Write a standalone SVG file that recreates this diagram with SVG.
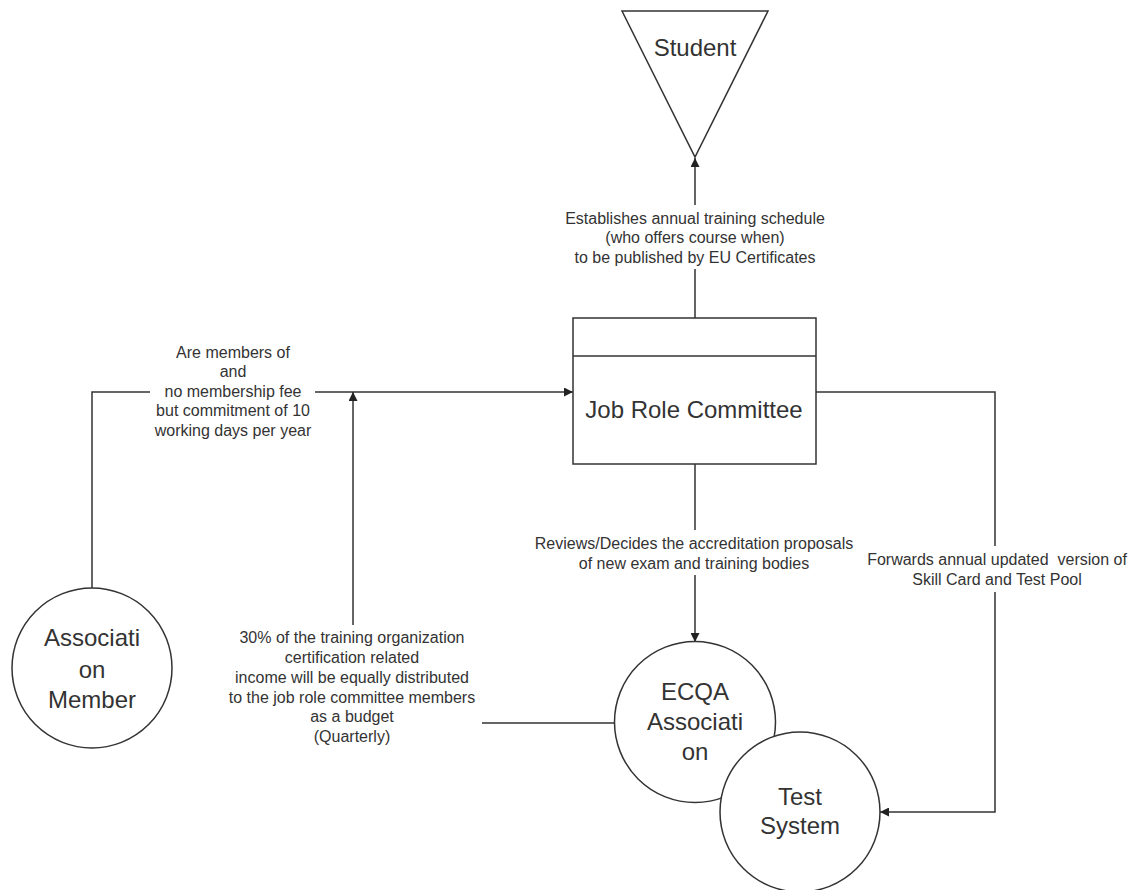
<svg xmlns="http://www.w3.org/2000/svg" width="1133" height="890" viewBox="0 0 1133 890">
<style>
.shape{fill:#fff;stroke:#333;stroke-width:1.5}
.conn{fill:none;stroke:#333;stroke-width:1.5}
.node{font-family:"Liberation Sans",Arial,sans-serif;font-size:24px;fill:#333;text-anchor:middle}
.lbl{font-family:"Liberation Sans",Arial,sans-serif;font-size:16px;fill:#333;text-anchor:middle;white-space:pre}
</style>
<defs>
<marker id="arr" viewBox="0 0 10 10" refX="10" refY="5" markerWidth="9" markerHeight="9" markerUnits="userSpaceOnUse" orient="auto">
<path d="M0,0 L10,5 L0,10 z" fill="#222"/>
</marker>
</defs>
<rect width="1133" height="890" fill="#fff"/>

<g id="connectors">
<path class="conn" d="M695,318 V269 M695,205 V158" marker-end="url(#arr)"/>
<path class="conn" d="M92,588 V392 H150 M315,392 H573" marker-end="url(#arr)"/>
<path class="conn" d="M614,723 H482"/>
<path class="conn" d="M353,625 V392" marker-end="url(#arr)"/>
<path class="conn" d="M695,464 V530 M695,575 V642" marker-end="url(#arr)"/>
<path class="conn" d="M816,392 H995 V546 M995,592 V812 H880" marker-end="url(#arr)"/>
</g>

<g id="labels">
<text class="lbl" x="695" y="224">Establishes annual training schedule</text>
<text class="lbl" x="695" y="243">(who offers course when)</text>
<text class="lbl" x="695" y="263">to be published by EU Certificates</text>

<text class="lbl" x="233" y="358">Are members of</text>
<text class="lbl" x="233" y="377">and</text>
<text class="lbl" x="233" y="397">no membership fee</text>
<text class="lbl" x="233" y="416">but commitment of 10</text>
<text class="lbl" x="233" y="436">working days per year</text>

<text class="lbl" x="694" y="549">Reviews/Decides the accreditation proposals</text>
<text class="lbl" x="694" y="569">of new exam and training bodies</text>

<text class="lbl" x="997" y="565" xml:space="preserve">Forwards annual updated  version of</text>
<text class="lbl" x="997" y="585">Skill Card and Test Pool</text>

<text class="lbl" x="352" y="643">30% of the training organization</text>
<text class="lbl" x="352" y="663">certification related</text>
<text class="lbl" x="352" y="683">income will be equally distributed</text>
<text class="lbl" x="352" y="703">to the job role committee members</text>
<text class="lbl" x="352" y="722">as a budget</text>
<text class="lbl" x="352" y="742">(Quarterly)</text>
</g>

<g id="student">
<path class="shape" d="M622,11 H768 L695,157 Z"/>
<text class="node" x="695" y="56">Student</text>
</g>

<g id="job-role-committee">
<rect class="shape" x="573" y="318" width="243" height="146"/>
<line class="conn" x1="573" y1="356" x2="816" y2="356"/>
<text class="node" x="694" y="418">Job Role Committee</text>
</g>

<g id="association-member">
<circle class="shape" cx="92" cy="668" r="80"/>
<text class="node" x="92" y="646">Associati</text>
<text class="node" x="92" y="678">on</text>
<text class="node" x="92" y="708">Member</text>
</g>

<g id="ecqa-association">
<circle class="shape" cx="695" cy="722" r="80.5"/>
<text class="node" x="695" y="700">ECQA</text>
<text class="node" x="695" y="730">Associati</text>
<text class="node" x="695" y="760">on</text>
</g>

<g id="test-system">
<circle class="shape" cx="800" cy="812" r="80"/>
<text class="node" x="800" y="805">Test</text>
<text class="node" x="800" y="834">System</text>
</g>
</svg>
